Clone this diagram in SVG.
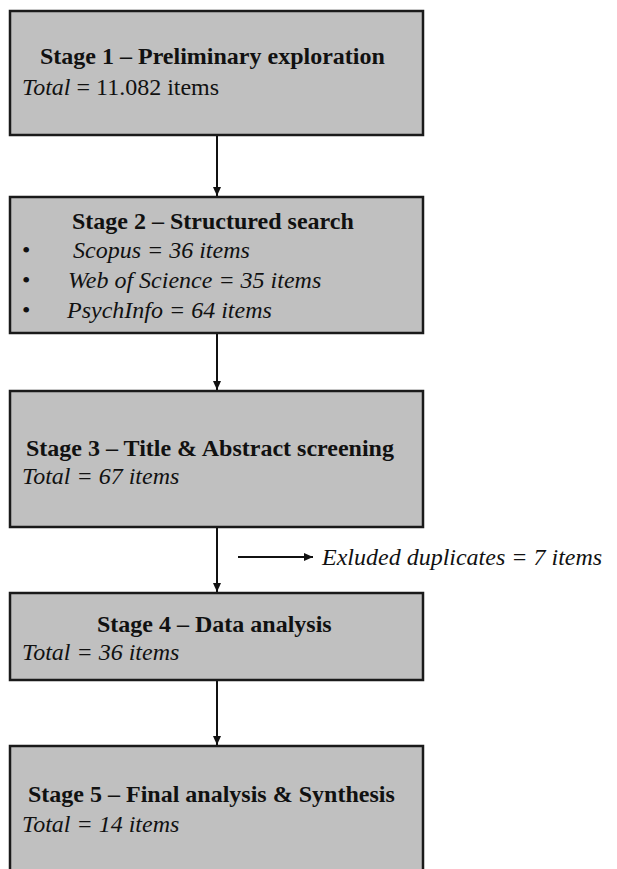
<svg xmlns="http://www.w3.org/2000/svg" width="617" height="869" viewBox="0 0 617 869">
<style>
  .box { fill: #c0c0c0; stroke: #1a1a1a; stroke-width: 2.5; }
  .t { font-family: "Liberation Serif", "Times New Roman", serif; font-size: 24px; fill: #111; }
  .b { font-weight: bold; }
  .i { font-style: italic; }
  .conn line { stroke: #111; stroke-width: 2; }
</style>
<defs>
  <marker id="ah" markerWidth="10" markerHeight="10" refX="9" refY="5" orient="auto" markerUnits="userSpaceOnUse">
    <path d="M0,1 L9,5 L0,9 Z" fill="#111"/>
  </marker>
</defs>
<rect width="617" height="869" fill="#ffffff"/>
<g id="connectors" class="conn">
  <line x1="217" y1="135" x2="217" y2="196" marker-end="url(#ah)"/>
  <line x1="217" y1="333" x2="217" y2="390" marker-end="url(#ah)"/>
  <line x1="217" y1="527" x2="217" y2="592" marker-end="url(#ah)"/>
  <line x1="217" y1="680" x2="217" y2="745" marker-end="url(#ah)"/>
  <line x1="238" y1="557" x2="313" y2="557" marker-end="url(#ah)"/>
</g>
<g id="stage1">
  <rect class="box" x="10" y="11" width="413" height="124"/>
  <text class="t b" x="40" y="64">Stage 1 – Preliminary exploration</text>
  <text class="t" x="22" y="95"><tspan class="i">Total</tspan> = 11.082 items</text>
</g>
<g id="stage2">
  <rect class="box" x="10" y="197" width="413" height="136"/>
  <text class="t b" x="72" y="229">Stage 2 – Structured search</text>
  <text class="t" x="22" y="258">•</text>
  <text class="t i" x="73" y="258">Scopus = 36 items</text>
  <text class="t" x="22" y="288">•</text>
  <text class="t i" x="68" y="288">Web of Science = 35 items</text>
  <text class="t" x="22" y="318">•</text>
  <text class="t i" x="67" y="318">PsychInfo = 64 items</text>
</g>
<g id="stage3">
  <rect class="box" x="10" y="391" width="413" height="136"/>
  <text class="t b" x="26" y="456">Stage 3 – Title &amp; Abstract screening</text>
  <text class="t i" x="22" y="484">Total = 67 items</text>
</g>
<g id="excluded">
  <text class="t i" x="322" y="565">Exluded duplicates = 7 items</text>
</g>
<g id="stage4">
  <rect class="box" x="10" y="593" width="413" height="87"/>
  <text class="t b" x="97" y="632">Stage 4 – Data analysis</text>
  <text class="t i" x="22" y="660">Total = 36 items</text>
</g>
<g id="stage5">
  <rect class="box" x="10" y="746" width="413" height="150"/>
  <text class="t b" x="28" y="802">Stage 5 – Final analysis &amp; Synthesis</text>
  <text class="t i" x="22" y="832">Total = 14 items</text>
</g>
</svg>
